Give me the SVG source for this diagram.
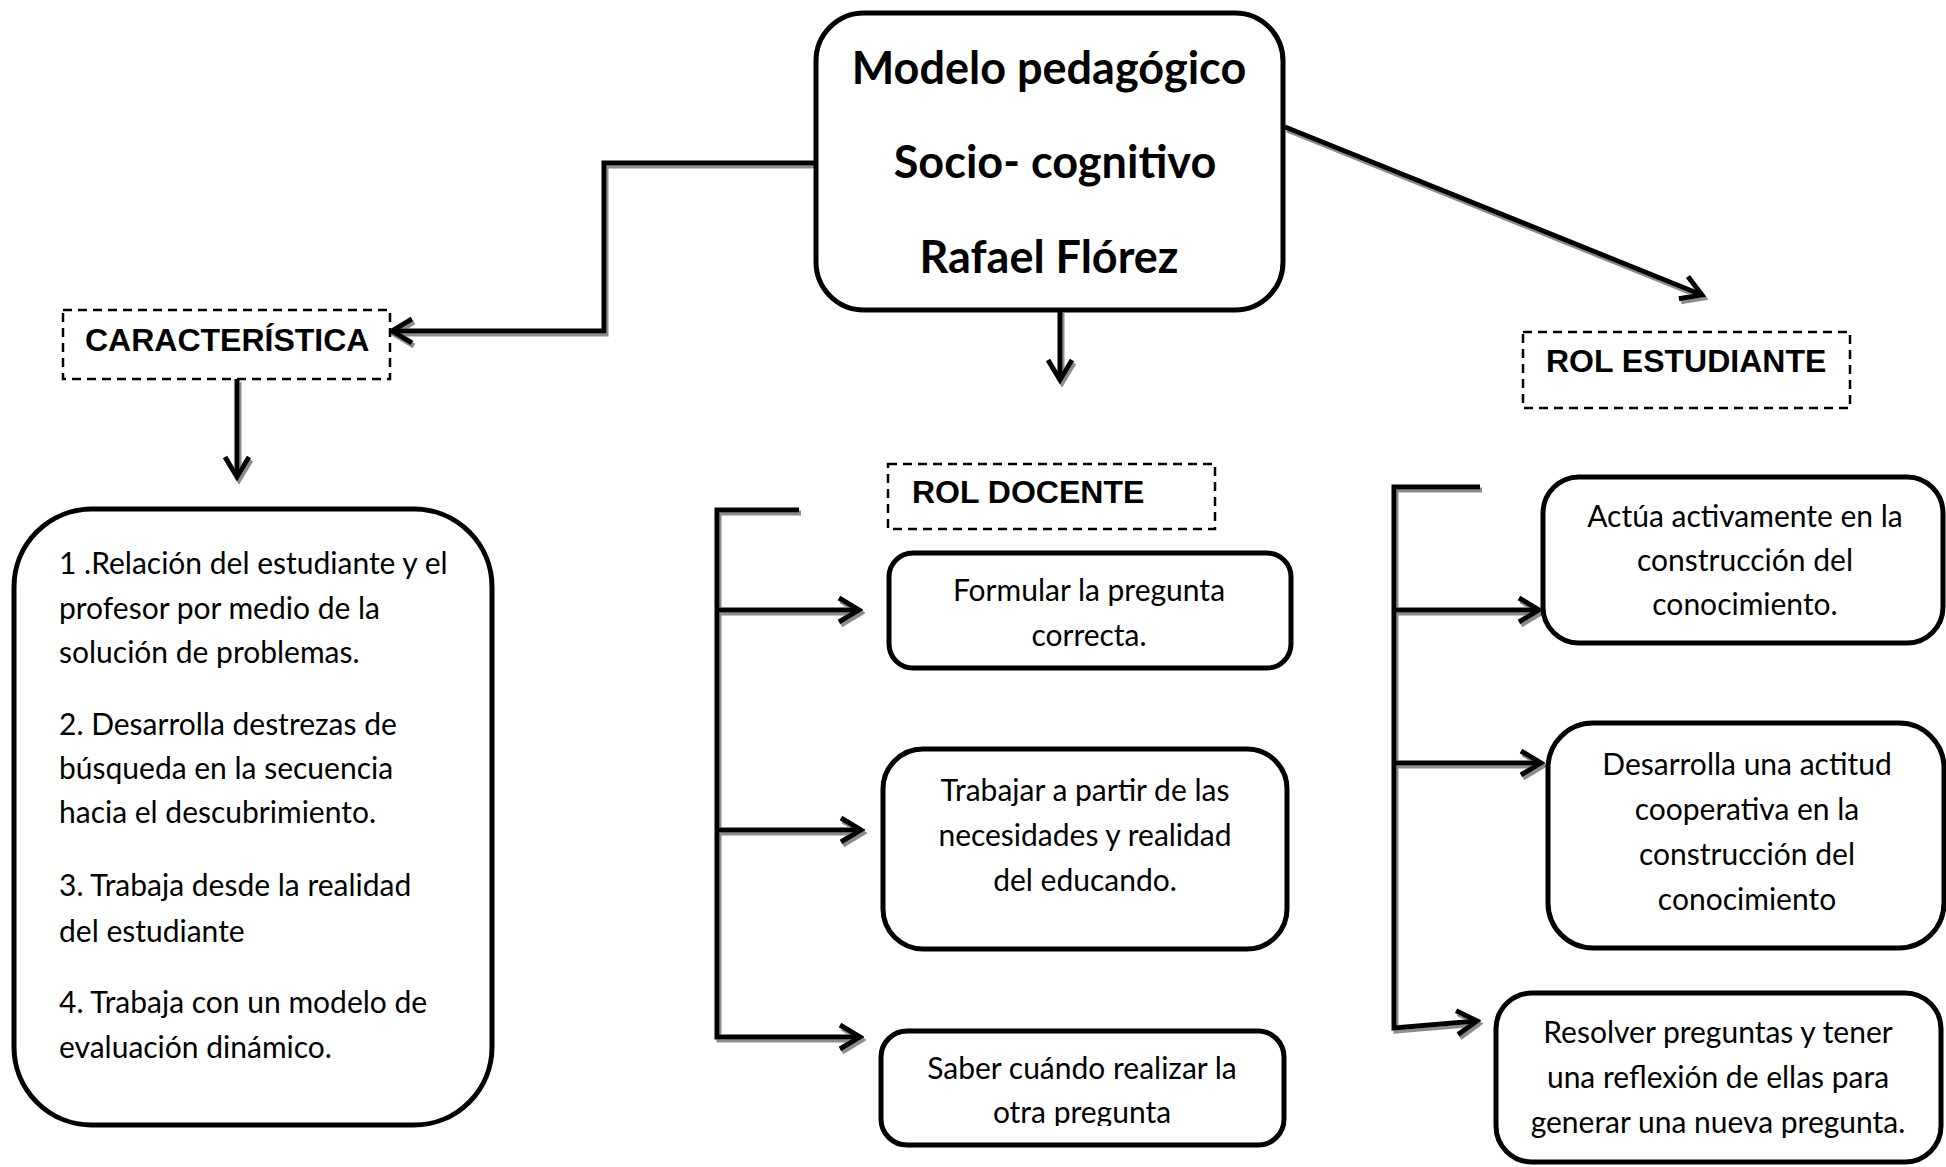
<svg xmlns="http://www.w3.org/2000/svg" width="1946" height="1167" viewBox="0 0 1946 1167">
<style>
.box{fill:#fff;stroke:#000;stroke-width:5}
.dash{fill:#fff;stroke:#000;stroke-width:2.5;stroke-dasharray:9 6}
.title{font-family:Lato,"Liberation Sans",sans-serif;font-weight:bold;font-size:45px;fill:#000;text-anchor:middle}
.lbl{font-family:"Liberation Sans",Arial,sans-serif;font-weight:bold;font-size:32px;fill:#000}
.body{font-family:Lato,"Open Sans",sans-serif;font-size:30px;fill:#000}
.c{text-anchor:middle}
.wire{fill:none;stroke:#000;stroke-width:5}
</style>
<defs>
<marker id="ah" markerUnits="userSpaceOnUse" viewBox="-26 -16 30 32" refX="0" refY="0" markerWidth="30" markerHeight="32" orient="auto">
<path d="M-20,-12 L0,0 L-20,12" fill="none" stroke="#000" stroke-width="5"/>
</marker>
<filter id="sh" x="-10%" y="-10%" width="120%" height="120%">
<feDropShadow dx="2" dy="3" stdDeviation="0.4" flood-color="#8c8c8c" flood-opacity="1"/>
</filter>
<clipPath id="clipD3"><rect x="870" y="1020" width="430" height="106"/></clipPath>
</defs>
<rect width="1946" height="1167" fill="#fff"/>

<g id="connectors" filter="url(#sh)">
<path class="wire" d="M816,163 H604 V331 H392" marker-end="url(#ah)"/>
<path class="wire" d="M237,379 V477" marker-end="url(#ah)"/>
<path class="wire" d="M1060,310 V380" marker-end="url(#ah)"/>
<path class="wire" d="M1285,127 L1702,295" marker-end="url(#ah)"/>
<path class="wire" d="M799,510 H717 V1037 H860" marker-end="url(#ah)"/>
<path class="wire" d="M717,610 H859" marker-end="url(#ah)"/>
<path class="wire" d="M717,830 H861" marker-end="url(#ah)"/>
<path class="wire" d="M1480,487 H1394 V1028 L1477,1021" marker-end="url(#ah)"/>
<path class="wire" d="M1394,610 H1539" marker-end="url(#ah)"/>
<path class="wire" d="M1394,763 H1541" marker-end="url(#ah)"/>
</g>

<g id="main">
<rect class="box" x="816" y="13" width="467" height="297" rx="48"/>
<text class="title" x="1049" y="84">Modelo pedagógico</text>
<text class="title" x="1055" y="178">Socio- cognitivo</text>
<text class="title" x="1049" y="273">Rafael Flórez</text>
</g>

<g id="caracteristica">
<rect class="dash" x="63" y="310" width="327" height="69"/>
<text class="lbl" x="85" y="351">CARACTERÍSTICA</text>
</g>

<g id="rol-docente">
<rect class="dash" x="888" y="464" width="327" height="65"/>
<text class="lbl" x="912" y="503">ROL DOCENTE</text>
</g>

<g id="rol-estudiante">
<rect class="dash" x="1523" y="332" width="327" height="76"/>
<text class="lbl" x="1546" y="372">ROL ESTUDIANTE</text>
</g>

<g id="caracteristicas-lista">
<rect class="box" x="14" y="509" width="478" height="616" rx="78"/>
<text class="body" x="59" y="574">1 .Relación del estudiante y el</text>
<text class="body" x="59" y="619">profesor por medio de la</text>
<text class="body" x="59" y="663">solución de problemas.</text>
<text class="body" x="59" y="735">2. Desarrolla destrezas de</text>
<text class="body" x="59" y="779">búsqueda en la secuencia</text>
<text class="body" x="59" y="823">hacia el descubrimiento.</text>
<text class="body" x="59" y="896">3. Trabaja desde la realidad</text>
<text class="body" x="59" y="942">del estudiante</text>
<text class="body" x="59" y="1013">4. Trabaja con un modelo de</text>
<text class="body" x="59" y="1058">evaluación dinámico.</text>
</g>

<g id="docente-1">
<rect class="box" x="889" y="553" width="402" height="115" rx="24"/>
<text class="body c" x="1089" y="601">Formular la pregunta</text>
<text class="body c" x="1089" y="646">correcta.</text>
</g>

<g id="docente-2">
<rect class="box" x="883" y="749" width="404" height="200" rx="40"/>
<text class="body c" x="1085" y="801">Trabajar a partir de las</text>
<text class="body c" x="1085" y="846">necesidades y realidad</text>
<text class="body c" x="1085" y="891">del educando.</text>
</g>

<g id="docente-3">
<rect class="box" x="881" y="1031" width="403" height="114" rx="26"/>
<g clip-path="url(#clipD3)">
<text class="body c" x="1082" y="1079">Saber cuándo realizar la</text>
<text class="body c" x="1082" y="1123">otra pregunta</text>
</g>
</g>

<g id="estudiante-1">
<rect class="box" x="1543" y="477" width="400" height="166" rx="36"/>
<text class="body c" x="1745" y="527">Actúa activamente en la</text>
<text class="body c" x="1745" y="571">construcción del</text>
<text class="body c" x="1745" y="615">conocimiento.</text>
</g>

<g id="estudiante-2">
<rect class="box" x="1548" y="723" width="396" height="225" rx="45"/>
<text class="body c" x="1747" y="775">Desarrolla una actitud</text>
<text class="body c" x="1747" y="820">cooperativa en la</text>
<text class="body c" x="1747" y="865">construcción del</text>
<text class="body c" x="1747" y="910">conocimiento</text>
</g>

<g id="estudiante-3">
<rect class="box" x="1496" y="993" width="445" height="169" rx="36"/>
<text class="body c" x="1718" y="1043">Resolver preguntas y tener</text>
<text class="body c" x="1718" y="1088">una reflexión de ellas para</text>
<text class="body c" x="1718" y="1133">generar una nueva pregunta.</text>
</g>
</svg>
